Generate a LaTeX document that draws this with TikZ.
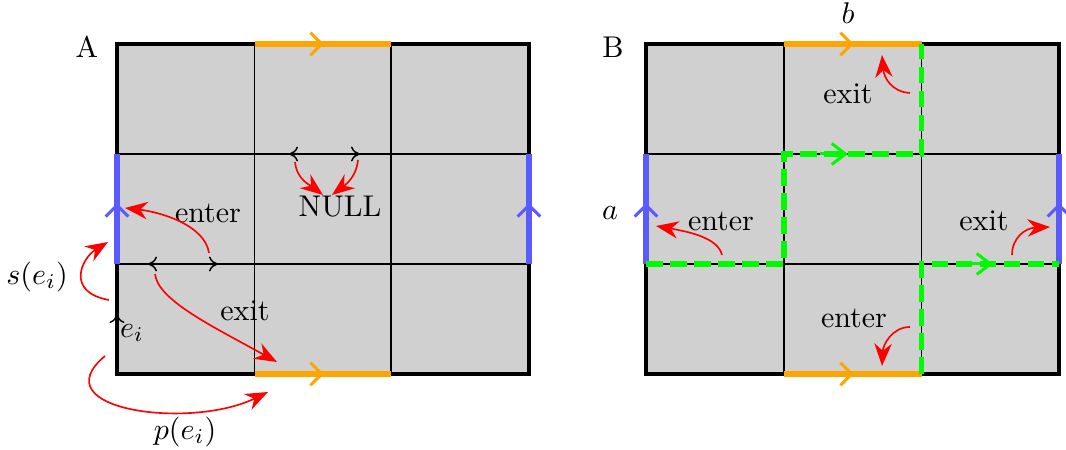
\documentclass[tikz,border=0pt]{standalone}
\usetikzlibrary{arrows.meta}
\definecolor{cellgray}{RGB}{208,208,208}
\definecolor{edgeblue}{RGB}{90,90,255}
\definecolor{edgeorange}{RGB}{255,165,0}
\definecolor{pathgreen}{RGB}{0,250,0}
\begin{document}
\begin{tikzpicture}[x=0.3333pt,y=-0.3333pt,
  gridline/.style={line width=0.5pt},
  borderline/.style={line width=1.3pt},
  oedge/.style={edgeorange,line width=1.8pt},
  bedge/.style={edgeblue,line width=1.8pt},
  otip/.style={edgeorange,line width=1pt,-{Straight Barb[length=3.8pt,width=7.5pt]}},
  btip/.style={edgeblue,line width=1pt,-{Straight Barb[length=3.8pt,width=7.5pt]}},
  gpath/.style={pathgreen,line width=1.8pt,dash pattern=on 5.5pt off 2.5pt},
  gtip/.style={pathgreen,line width=1pt,-{Straight Barb[length=4.6pt,width=7pt]}},
  redarrow/.style={red,line width=0.55pt,-{Stealth[length=7.5pt,width=5.8pt]}},
  smalltip/.style={line width=0.5pt,-{Computer Modern Rightarrow[length=3pt,width=5pt]}},
  dbltip/.style={line width=0.5pt,{Computer Modern Rightarrow[length=3pt,width=5pt]}-{Computer Modern Rightarrow[length=3pt,width=5pt]}},
  lbl/.style={inner sep=0pt}]
\useasboundingbox (0,0) rectangle (1066,450);

% ================= Panel A =================
\fill[cellgray] (117,44) rectangle (529,374);
\draw[gridline] (254.5,44) -- (254.5,374) (391,44) -- (391,374)
                (117,154) -- (529,154) (117,264) -- (529,264);
\draw[borderline] (117,44) rectangle (529,374);
% colored edges
\draw[oedge] (254.5,44) -- (391,44);
\draw[otip] (300,44) -- (324,44);
\draw[oedge] (254.5,374) -- (391,374);
\draw[otip] (300,374) -- (324,374);
\draw[bedge] (117,154) -- (117,264);
\draw[btip] (117,230) -- (117,203);
\draw[bedge] (529,154) -- (529,264);
\draw[btip] (529,230) -- (529,203);
% small black arrows
\draw[dbltip] (148,264) -- (218,264);
\draw[dbltip] (289,154) -- (360,154);
\draw[smalltip] (117,330) -- (117,314);

% labels A
\node[lbl] (labA) at (87,47) {A};
\node[lbl] (enterA) at (208,213) {enter};
\node[lbl] (exitA) at (245,311) {exit};
\node[lbl] (nullA) at (340,207) {NULL};
\node[lbl] (sA) at (37,277) {$s(e_i)$};
\node[lbl] (eA) at (132,333) {$e_i$};
\node[lbl] (pA) at (185,432) {$p(e_i)$};

% red arrows A
\coordinate (enS) at (209,253); \coordinate (enE) at (125,208);
\draw[redarrow] (enS) .. controls (205,225) and (160,212) .. (enE);
\coordinate (exS) at (155,274); \coordinate (exE) at (277,362);
\draw[redarrow] (exS) .. controls (158,300) and (210,325) .. (exE);
\coordinate (sS) at (109,300); \coordinate (sE) at (108,242);
\draw[redarrow] (sS) .. controls (65,292) and (82,258) .. (sE);
\coordinate (pS) at (105,356); \coordinate (pE) at (268,392);
\draw[redarrow] (pS) .. controls (40,410) and (190,430) .. (pE);
\coordinate (n1S) at (295,162); \coordinate (n1E) at (323,195);
\draw[redarrow] (n1S) .. controls (297,180) and (310,185) .. (n1E);
\coordinate (n2S) at (358,160); \coordinate (n2E) at (332,195);
\draw[redarrow] (n2S) .. controls (356,178) and (345,185) .. (n2E);

% ================= Panel B =================
\fill[cellgray] (646,44) rectangle (1059,374);
\draw[gridline] (784,44) -- (784,374) (921.5,44) -- (921.5,374)
                (646,154) -- (1059,154) (646,264) -- (1059,264);
\draw[borderline] (646,44) rectangle (1059,374);
\draw[oedge] (784,44) -- (921.5,44);
\draw[otip] (830,44) -- (854,44);
\draw[oedge] (784,374) -- (921.5,374);
\draw[otip] (830,374) -- (854,374);
\draw[bedge] (646,154) -- (646,264);
\draw[btip] (646,230) -- (646,203);
\draw[bedge] (1059,154) -- (1059,264);
\draw[btip] (1059,230) -- (1059,203);
% green path
\draw[gpath] (646,264) -- (784,264) -- (784,154) -- (921.5,154) -- (921.5,44);
\draw[gtip] (820,154) -- (848,154);
\draw[gpath] (921.5,374) -- (921.5,264) -- (1059,264);
\draw[gtip] (960,264) -- (993,264);

% labels B
\node[lbl] (labB) at (613,47) {B};
\node[lbl] (labb) at (848,13) {$b$};
\node[lbl] (laba) at (610,213) {$a$};
\node[lbl] (exitB1) at (848,94) {exit};
\node[lbl] (enterB1) at (721,221) {enter};
\node[lbl] (exitB2) at (984,221) {exit};
\node[lbl] (enterB2) at (854,318) {enter};

% red arrows B
\coordinate (x1S) at (910,93); \coordinate (x1E) at (882,55);
\draw[redarrow] (x1S) .. controls (892,92) and (884,78) .. (x1E);
\coordinate (e2S) at (910,327); \coordinate (e2E) at (882,366);
\draw[redarrow] (e2S) .. controls (892,327) and (883,345) .. (e2E);
\coordinate (e1S) at (722,255); \coordinate (e1E) at (656,226);
\draw[redarrow] (e1S) .. controls (718,238) and (690,232) .. (e1E);
\coordinate (x2S) at (1012,255); \coordinate (x2E) at (1050,227);
\draw[redarrow] (x2S) .. controls (1012,238) and (1025,228) .. (x2E);
\end{tikzpicture}
\end{document}
